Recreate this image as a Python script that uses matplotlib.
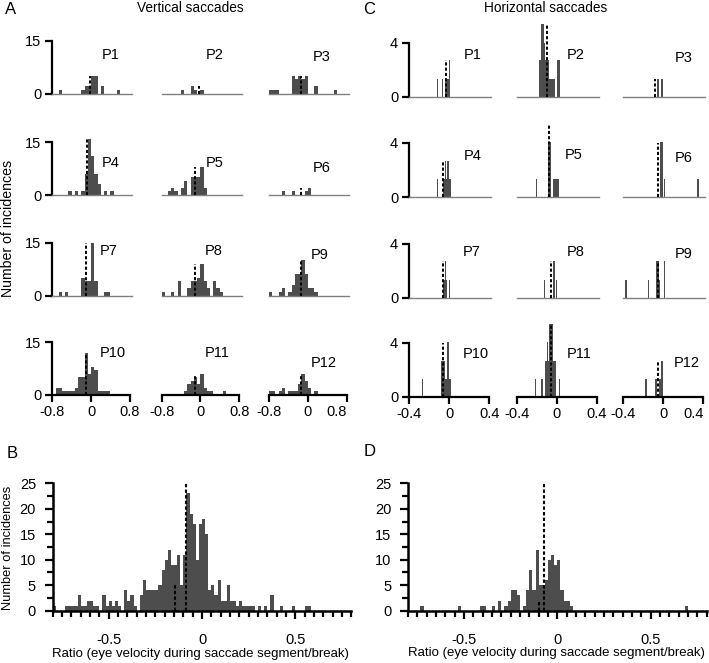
import numpy as np
import matplotlib.pyplot as plt
from matplotlib.ticker import MultipleLocator

plt.rcParams['font.family'] = ['Liberation Sans', 'DejaVu Sans']
plt.rcParams['axes.unicode_minus'] = False

# ---------------- data ----------------
# A: vertical saccades, counts in 24 bins of width 1/15 from -0.8 to 0.8
v_p1 = [0, 0, 1, 0, 0, 0, 0, 0, 0, 1, 2, 2, 5, 5, 0, 2, 0, 0, 0, 0, 1, 0, 0, 0]
v_p2 = [0, 0, 0, 0, 0, 0, 1, 0, 0, 2, 1, 0, 1, 0, 0, 0, 0, 0, 0, 0, 0, 0, 0, 0]
v_p3 = [1, 1, 1, 0, 0, 0, 0, 5, 4, 5, 4, 5, 0, 0, 2, 0, 0, 0, 0, 0, 1, 0, 0, 0]
v_p4 = [0, 0, 0, 0, 0, 1, 0, 1, 0, 1, 6, 16, 11, 6, 3, 0, 1, 0, 1, 0, 0, 0, 0, 0]
v_p5 = [0, 0, 1, 2, 1, 0, 2, 4, 0, 5, 5, 5, 8, 2, 0, 0, 0, 0, 0, 0, 0, 0, 0, 0]
v_p6 = [0, 0, 0, 0, 1, 0, 0, 1, 0, 0, 0, 1, 2, 0, 0, 0, 0, 0, 0, 0, 0, 0, 0, 0]
v_p7 = [0, 0, 1, 0, 1, 0, 0, 0, 0, 5, 4, 4, 15, 4, 0, 0, 1, 1, 0, 0, 0, 0, 0, 0]
v_p8 = [1, 0, 0, 1, 0, 4, 0, 0, 2, 4, 4, 5, 9, 4, 2, 0, 4, 2, 1, 0, 0, 0, 0, 0]
v_p9 = [1, 0, 0, 1, 2, 0, 1, 3, 6, 6, 10, 6, 2, 2, 1, 0, 0, 0, 0, 0, 0, 0, 0, 0]
v_p10 = [0, 2, 2, 1, 1, 1, 1, 2, 5, 5, 12, 6, 8, 7, 1, 1, 1, 1, 0, 0, 0, 0, 0, 0]
v_p11 = [0, 0, 0, 0, 0, 0, 0, 1, 3, 4, 5, 3, 6, 2, 1, 1, 0, 0, 0, 1, 0, 0, 0, 0]
v_p12 = [1, 1, 0, 1, 2, 0, 1, 1, 1, 3, 6, 4, 2, 0, 1, 0, 0, 0, 0, 0, 0, 0, 0, 0]
v_med_x = [-0.02, -0.03, -0.14, -0.075, -0.1, -0.136, -0.11, -0.1, -0.136, -0.11, -0.1, -0.136]
v_med_h = [5, 2, 5, 16, 8, 2, 15, 9, 10, 11.6, 6, 6]

# C: horizontal saccades, bar centres (bins of 1/75) and heights
h_p1_x = [-0.12, -0.067, -0.04, -0.027, -0.013, 0.0]
h_p1_y = [1.3, 1.3, 1.3, 1.3, 1.3, 2.7]
h_p2_x = [-0.173, -0.16, -0.147, -0.133, -0.12, -0.107, -0.093, -0.08, -0.067, -0.053, -0.04, -0.027, 0.013, 0.027]
h_p2_y = [2.7, 2.7, 5.4, 5.4, 4.0, 2.7, 2.7, 2.7, 1.3, 1.3, 1.3, 1.3, 2.7, 2.7]
h_p3_x = [-0.053, -0.013]
h_p3_y = [1.3, 1.3]
h_p4_x = [-0.12, -0.053, -0.04, -0.027, -0.013, 0.0, 0.013]
h_p4_y = [1.3, 1.3, 2.7, 1.3, 2.7, 1.3, 1.3]
h_p5_x = [-0.2, -0.08, -0.067, -0.027, -0.013, 0.0, 0.013]
h_p5_y = [1.3, 4.1, 4.1, 1.3, 1.3, 1.3, 1.3]
h_p6_x = [-0.027, -0.013, 0.013, 0.347]
h_p6_y = [4.1, 4.1, 1.3, 1.3]
h_p7_x = [-0.053, -0.04, -0.027, 0.0]
h_p7_y = [1.3, 2.7, 1.3, 1.3]
h_p8_x = [-0.12, -0.027, 0.0]
h_p8_y = [1.3, 2.7, 1.3]
h_p9_x = [-0.373, -0.147, -0.067, -0.053, -0.04, 0.013]
h_p9_y = [1.3, 1.3, 2.7, 2.7, 1.3, 2.7]
h_p10_x = [-0.267, -0.08, -0.067, -0.053, -0.04, -0.027, -0.013, 0.0, 0.013]
h_p10_y = [1.3, 2.7, 2.7, 2.7, 1.3, 1.3, 4.1, 1.3, 1.3]
h_p11_x = [-0.213, -0.147, -0.107, -0.093, -0.08, -0.067, -0.053, -0.04, -0.027, -0.013, 0.027]
h_p11_y = [1.3, 1.3, 2.7, 4.1, 2.7, 5.4, 5.4, 5.4, 2.7, 2.7, 1.3]
h_p12_x = [-0.173, -0.08, -0.067, -0.04, -0.027, -0.013]
h_p12_y = [1.3, 1.3, 1.3, 1.3, 1.3, 2.7]
h_med_x = [-0.033, -0.094, -0.083, -0.067, -0.077, -0.057, -0.06, -0.053, -0.057, -0.06, -0.053, -0.057]
h_med_h = [2.7, 5.4, 1.3, 2.7, 5.4, 4.0, 2.7, 2.7, 2.7, 4.0, 5.4, 2.7]

# B / D: pooled histograms, 96 bins of width 1/60 from -0.8 to 0.8
b_counts = [1, 0, 0, 0, 1, 1, 1, 1, 3, 1, 1, 2, 2, 1, 1, 0, 3, 1, 2, 1,
            2, 1, 0, 4, 2, 3, 1, 0, 3, 6, 4, 4, 4, 4, 5, 8, 10, 12, 9, 9,
            11, 5, 11, 23, 19, 17, 10, 17, 18, 15, 4, 5, 3, 6, 2, 2, 5, 2, 2, 1,
            2, 1, 1, 1, 1, 0, 1, 0, 1, 0, 3, 0, 0, 1, 0, 0, 0, 1, 0, 0,
            0, 1, 1, 0, 0, 0, 0, 0, 0, 0, 0, 0, 0, 0, 0, 0]
d_counts = [0, 0, 0, 0, 1, 0, 0, 0, 0, 0, 0, 0, 0, 0, 0, 0, 1, 0, 0, 0,
            0, 0, 0, 1, 1, 0, 0, 1, 0, 2, 0, 1, 2, 4, 4, 3, 0, 1, 4, 8,
            4, 12, 5, 5, 6, 10, 11, 9, 10, 4, 2, 2, 1, 0, 0, 0, 0, 0, 0, 0,
            0, 0, 0, 0, 0, 0, 0, 0, 0, 0, 0, 0, 0, 0, 0, 0, 0, 0, 0, 0,
            0, 0, 0, 0, 0, 0, 0, 0, 0, 1, 0, 0, 0, 0, 0, 0]
b_med_x = [-0.143, -0.086]
b_med_h = [5, 25]
d_med_x = [-0.096, -0.071]
d_med_h = [2, 25]

panel_names = ['P1', 'P2', 'P3', 'P4', 'P5', 'P6', 'P7', 'P8', 'P9', 'P10', 'P11', 'P12']

# ---------------- layout ----------------
W, H = 709, 663
fig = plt.figure(figsize=(W / 100, H / 100), dpi=100)
bar_col = '#4d4d4d'
dash = (0, (1.6, 1.1))


def add_ax(left, base, xs, ys, xlim, ylim):
    # left = pixel of xlim[0], base = pixel (from top) of ylim[0]
    w = (xlim[1] - xlim[0]) * xs
    h = (ylim[1] - ylim[0]) * ys
    ax = fig.add_axes([left / W, 1 - base / H, w / W, h / H])
    ax.set_xlim(*xlim)
    ax.set_ylim(*ylim)
    ax.patch.set_visible(False)
    return ax


def style_small(ax, row, col, ytop, xt, xtl):
    ax.spines['top'].set_visible(False)
    ax.spines['right'].set_visible(False)
    if col == 0:
        ax.spines['left'].set_bounds(0, ytop)
        ax.spines['left'].set_linewidth(1.6)
        ax.set_yticks([0, ytop])
        ax.set_yticklabels(['0', str(ytop)])
        ax.tick_params(axis='y', direction='out', length=5, width=1.6,
                       labelsize=10.5, pad=3)
    else:
        ax.spines['left'].set_visible(False)
        ax.set_yticks([])
    if row == 3:
        ax.spines['bottom'].set_bounds(xt[0], xt[-1])
        ax.spines['bottom'].set_linewidth(1.6)
        ax.set_xticks(xt)
        labs = ax.set_xticklabels(xtl)
        if col == 2:
            labs[-1].set_ha('right')
        ax.tick_params(axis='x', direction='out', length=5, width=1.6,
                       labelsize=10.5, pad=2)
    else:
        ax.spines['bottom'].set_color('#808080')
        ax.spines['bottom'].set_linewidth(1.0)
        ax.set_xticks([])


# A panels
v_data = [v_p1, v_p2, v_p3, v_p4, v_p5, v_p6, v_p7, v_p8, v_p9, v_p10, v_p11, v_p12]
v_edges = -0.8 + np.arange(24) / 15
a_left = [52.3, 161.5, 269.0]
a_base = [93.5, 195.0, 295.5, 395.0]
v_lab_x = [0.4, 0.29, 0.28, 0.4, 0.29, 0.28, 0.36, 0.27, 0.25, 0.44, 0.35, 0.32]
v_lab_y = [10.8, 10.8, 10.2, 9.0, 9.0, 7.6, 12.5, 12.5, 11.5, 11.8, 11.8, 9.0]
for i in range(12):
    r, c = divmod(i, 3)
    ax = add_ax(a_left[c], a_base[r], 48.5, 3.53, (-0.8, 0.85), (0, 17.5))
    ax.bar(v_edges, v_data[i], width=1 / 15, align='edge', color=bar_col,
           linewidth=0, zorder=2)
    ax.vlines(v_med_x[i], 0, v_med_h[i], colors='k', linestyles=dash,
              linewidth=1.4, zorder=3)
    ax.text(v_lab_x[i], v_lab_y[i], panel_names[i], fontsize=10.5,
            ha='center', va='center')
    style_small(ax, r, c, 15, [-0.8, 0, 0.8], ['-0.8', '0', '0.8'])

# C panels
h_x = [h_p1_x, h_p2_x, h_p3_x, h_p4_x, h_p5_x, h_p6_x,
       h_p7_x, h_p8_x, h_p9_x, h_p10_x, h_p11_x, h_p12_x]
h_y = [h_p1_y, h_p2_y, h_p3_y, h_p4_y, h_p5_y, h_p6_y,
       h_p7_y, h_p8_y, h_p9_y, h_p10_y, h_p11_y, h_p12_y]
c_left = [409.3, 516.7, 623.3]
c_base = [96.7, 197.0, 297.7, 397.0]
h_lab_x = [0.23, 0.19, 0.2, 0.23, 0.17, 0.2, 0.22, 0.19, 0.2, 0.27, 0.22, 0.23]
h_lab_y = [3.1, 3.1, 2.9, 3.0, 3.1, 2.9, 3.4, 3.4, 3.2, 3.2, 3.2, 2.5]
for i in range(12):
    r, c = divmod(i, 3)
    ax = add_ax(c_left[c], c_base[r], 100, 13.5, (-0.4, 0.42), (0, 5.6))
    ax.bar(h_x[i], h_y[i], width=1 / 75, color=bar_col, linewidth=0, zorder=2)
    ax.vlines(h_med_x[i], 0, h_med_h[i], colors='k', linestyles=dash,
              linewidth=1.4, zorder=3)
    ax.text(h_lab_x[i], h_lab_y[i], panel_names[i], fontsize=10.5,
            ha='center', va='center')
    style_small(ax, r, c, 4, [-0.4, 0, 0.4], ['-0.4', '0', '0.4'])

# B and D pooled histograms
p_edges = -0.8 + np.arange(96) / 60
for left, counts, mx, mh in [(52.67, b_counts, b_med_x, b_med_h),
                             (408.0, d_counts, d_med_x, d_med_h)]:
    ax = add_ax(left, 610.7, 186.7, 5.096, (-0.8, 0.8), (0, 25))
    ax.bar(p_edges, counts, width=1 / 60, align='edge', color=bar_col,
           linewidth=0, zorder=2)
    ax.vlines(mx, 0, mh, colors='k', linestyles=dash, linewidth=1.5, zorder=3)
    ax.spines['top'].set_visible(False)
    ax.spines['right'].set_visible(False)
    for s in ['left', 'bottom']:
        ax.spines[s].set_linewidth(1.8)
    ax.set_xticks([-0.5, 0, 0.5])
    ax.set_xticklabels(['-0.5', '0', '0.5'])
    ax.xaxis.set_minor_locator(MultipleLocator(0.05))
    ax.set_yticks([0, 5, 10, 15, 20, 25])
    ax.yaxis.set_minor_locator(MultipleLocator(2.5))
    ax.tick_params(which='major', direction='out', length=6, width=1.6,
                   labelsize=10.5)
    ax.tick_params(which='minor', direction='out', length=4, width=1.6)
    ax.tick_params(axis='x', which='major', pad=10)
    ax.tick_params(axis='y', which='major', pad=6)

# texts
fig.text(11 / W, 1 - 9 / H, 'A', fontsize=12, ha='center', va='center')
fig.text(369 / W, 1 - 10 / H, 'C', fontsize=12, ha='center', va='center')
fig.text(12 / W, 1 - 453 / H, 'B', fontsize=12, ha='center', va='center')
fig.text(370 / W, 1 - 452 / H, 'D', fontsize=12, ha='center', va='center')
fig.text(190 / W, 1 - 8 / H, 'Vertical saccades', fontsize=9.8, ha='center', va='center')
fig.text(546 / W, 1 - 8 / H, 'Horizontal saccades', fontsize=9.8, ha='center', va='center')
fig.text(8 / W, 1 - 228 / H, 'Number of incidences', fontsize=10.2, rotation=90,
         ha='center', va='center')
fig.text(8 / W, 1 - 548 / H, 'Number of incidences', fontsize=9.3, rotation=90,
         ha='center', va='center')
fig.text(200 / W, 1 - 654 / H, 'Ratio (eye velocity during saccade segment/break)',
         fontsize=9.5, ha='center', va='center')
fig.text(556 / W, 1 - 653 / H, 'Ratio (eye velocity during saccade segment/break)',
         fontsize=9.5, ha='center', va='center')

fig.savefig('out.png', dpi=100)
